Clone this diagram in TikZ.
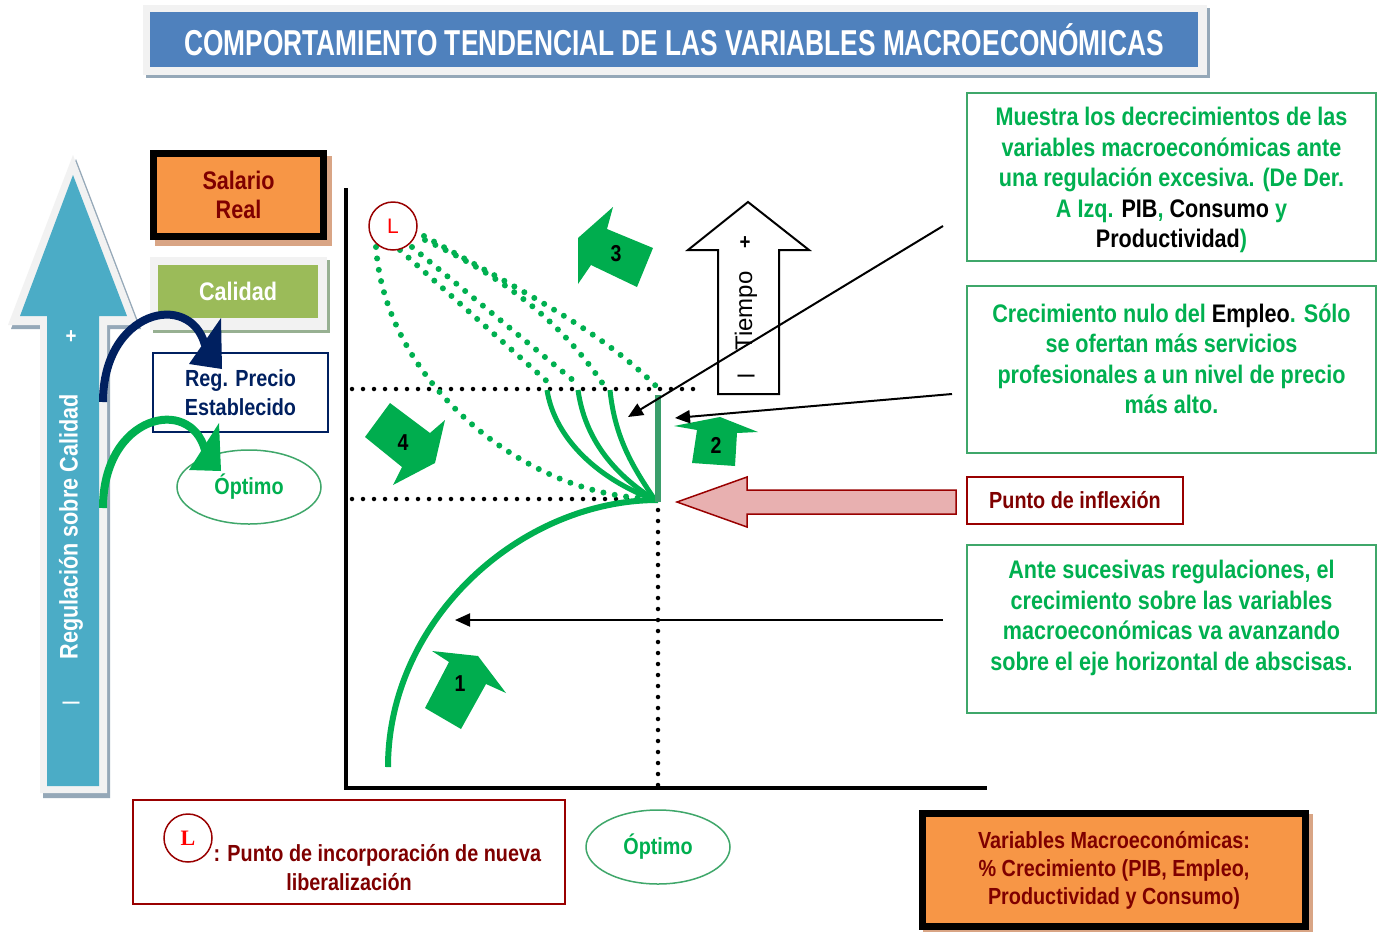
\documentclass[tikz,border=0pt]{standalone}
\usepackage{fontspec}
\usepackage{graphicx}
\setmainfont{Liberation Sans}[FakeStretch=0.85]
\newfontfamily\widesans{Liberation Sans}
\newfontfamily\serifL{Liberation Serif}
\usetikzlibrary{arrows.meta,shapes.geometric}
\definecolor{titleblue}{HTML}{4F81BD}
\definecolor{skyblue}{HTML}{4BACC6}
\definecolor{paleg}{HTML}{F2F2F2}
\definecolor{shadowb}{HTML}{95A8B8}
\definecolor{orng}{HTML}{F79646}
\definecolor{dred}{HTML}{7F0000}
\definecolor{bred}{HTML}{990000}
\definecolor{tgreen}{HTML}{00B050}
\definecolor{bgreen}{HTML}{3FA76A}
\definecolor{lgreen}{HTML}{9BBB59}
\definecolor{navyc}{HTML}{002060}
\definecolor{agreen}{HTML}{00AD4E}
\definecolor{bargreen}{HTML}{3A9E6B}
\definecolor{pinkc}{HTML}{E8B0B0}
\definecolor{tanc}{HTML}{D9A585}
\definecolor{lredc}{HTML}{FF0000}
\tikzset{
  fA/.style={font=\bfseries\fontsize{25.4}{30.5}\selectfont},
  fB/.style={font=\bfseries\fontsize{23.3}{28}\selectfont},
  gbox/.style={draw=bgreen, line width=1.5pt, minimum width=409pt, minimum height=168pt, inner sep=0pt},
  blockarrow/.style={fill=agreen},
  thinarrow/.style={line width=2pt, -{Triangle[length=15pt,width=13pt]}},
  gdots/.style={draw=tgreen, line width=6pt, line cap=round, dash pattern=on 0pt off 11.5pt},
  kdots/.style={draw=black, line width=4.5pt, line cap=round, dash pattern=on 0pt off 11pt},
  numlbl/.style={font=\bfseries\fontsize{23}{23}\selectfont, text=black},
  optimo/.style={ellipse, draw=bgreen, line width=1.5pt, minimum width=144pt, minimum height=74pt, inner sep=0pt, text=tgreen, fB},
  every node/.style={align=center}
}
\begin{document}
\begin{tikzpicture}[x=1pt,y=-1pt]
\useasboundingbox[fill=white] (0,0) rectangle (1383,932);

% ---------- title ----------
\fill[shadowb] (146,8) rectangle (1210,78);
\fill[paleg] (143,5) rectangle (1207,75);
\fill[titleblue] (150,12) rectangle (1198,67);
\node[font=\bfseries\fontsize{36}{36}\selectfont, text=white] (title) at (674,40)
  {\scalebox{0.86}[1]{COMPORTAMIENTO TENDENCIAL DE LAS VARIABLES MACROECONÓMICAS}};

% ---------- left big arrow ----------
\fill[shadowb] (76,159) -- (141,329) -- (110,329) -- (110,798) -- (43,798) -- (43,329) -- (11,329) -- cycle;
\fill[paleg] (73,155) -- (138,325) -- (107,325) -- (107,793) -- (40,793) -- (40,325) -- (8,325) -- cycle;
\fill[skyblue] (73,175) -- (127,316) -- (99,316) -- (99,786) -- (47,786) -- (47,316) -- (20,316) -- cycle;
\node[rotate=90, text=white, fA] (reglab) at (71,527) {Regulación sobre Calidad};
\node[text=white, font=\bfseries\fontsize{22}{22}\selectfont] (regplus) at (71,337) {+};
\node[text=white, font=\bfseries\fontsize{20}{20}\selectfont] (regminus) at (71,705) {—};

% ---------- Salario Real ----------
\fill[tanc] (155,156) rectangle (332,246);
\node[draw=black, line width=7pt, fill=orng, minimum width=170pt, minimum height=83pt, inner sep=0pt,
      text=dred, font=\bfseries\fontsize{25.4}{29}\selectfont] (salario) at (238.5,195) {Salario\\Real};

% ---------- Calidad ----------
\fill[shadowb!60!lgreen] (153,260) rectangle (330,333);
\fill[paleg] (150,257) rectangle (327,330);
\node[fill=lgreen, minimum width=160pt, minimum height=53pt, inner sep=0pt, text=white,
      font=\bfseries\fontsize{25.4}{25}\selectfont] (calidad) at (238,291.5) {Calidad};

% ---------- Reg. Precio ----------
\node[draw=navyc, line width=2pt, minimum width=175pt, minimum height=79pt, inner sep=0pt,
      text=navyc, font=\bfseries\fontsize{23.3}{29}\selectfont] (regprecio) at (240.5,392.5) {Reg. Precio\\Establecido};

% ---------- Optimo (left) ----------
\node[optimo] (opt1) at (249,487) {Óptimo};

% ---------- curved arrows ----------
\coordinate (navyS) at (103,402);
\coordinate (navyE) at (205,345);
\draw[navyc, line width=8pt] (navyS) .. controls (103,310) and (190,290) .. (navyE);
\fill[navyc] (189,364) -- (221,318) -- (222,369) -- cycle;
\coordinate (grnS) at (103,508);
\coordinate (grnE) at (205,450);
\draw[tgreen, line width=8pt] (grnS) .. controls (103,415) and (190,395) .. (grnE);
\fill[tgreen] (189,470) -- (219,423) -- (221,471) -- cycle;

% ---------- axes ----------
\coordinate (ytop) at (346,188);
\coordinate (origin) at (346,788);
\coordinate (xend) at (987,788);
\draw[line width=4pt] (ytop) -- (origin) -- (xend);

% dotted guides
\coordinate (d1a) at (352,389); \coordinate (d1b) at (700,389);
\coordinate (d2a) at (352,499); \coordinate (d2b) at (652,499);
\coordinate (d3a) at (658,510); \coordinate (d3b) at (658,786);
\draw[kdots] (d1a) -- (d1b);
\draw[kdots] (d2a) -- (d2b);
\draw[kdots] (d3a) -- (d3b);

% ---------- green dotted curves from L ----------
\coordinate (pinf) at (655,500);
\draw[gdots] (376,247) .. controls (385,380) and (520,490) .. (640,498);
\draw[gdots] (400,250) -- (550,384);
\draw[gdots] (412,247) -- (580,386);
\draw[gdots] (425,240) .. controls (500,275) and (560,320) .. (603,384);
\draw[gdots] (424,236) .. controls (520,290) and (600,330) .. (657,387);

% L circle
\node[circle, draw=bred, line width=1.5pt, fill=white, minimum size=48pt, inner sep=0pt,
      text=lredc, font=\widesans\fontsize{21}{21}\selectfont] (Lc) at (393,226) {L};

% ---------- solid green curves ----------
\draw[tgreen, line width=5pt] (547,390) .. controls (555,440) and (600,480) .. (pinf);
\draw[tgreen, line width=5pt] (578,390) .. controls (585,440) and (615,475) .. (pinf);
\draw[tgreen, line width=5pt] (610,390) .. controls (615,440) and (635,470) .. (pinf);
\coordinate (curveS) at (388,767);
\draw[tgreen, line width=6pt] (curveS) .. controls (388,620) and (520,500) .. (658,500);
\coordinate (barT) at (658,395);
\coordinate (barB) at (658,502);
\draw[bargreen, line width=6pt] (barT) -- (barB);

% ---------- block arrows ----------
\fill[blockarrow] (425,708) -- (449,662) -- (432,651) -- (478,656) -- (506,693) -- (486,684) -- (461,729) -- cycle;
\node[numlbl] (n1) at (460,684) {1};
\fill[blockarrow] (674,426) -- (720,417) -- (758,432) -- (737,433) -- (735,466) -- (692,463) -- (697,430) -- cycle;
\node[numlbl] (n2) at (716,445) {2};
\fill[blockarrow] (613,207) -- (578,238) -- (578,284) -- (591,265) -- (637,287) -- (653,248) -- (607,229) -- cycle;
\node[numlbl] (n3) at (616,254) {3};
\fill[blockarrow] (390,403) -- (365,437) -- (402,467) -- (393,485) -- (435,463) -- (445,420) -- (430,433) -- cycle;
\node[numlbl] (n4) at (403,443) {4};

% ---------- Tiempo arrow ----------
\draw[line width=2pt, fill=white] (748,202) -- (809,250) -- (779,250) -- (779,394) -- (718,394) -- (718,250) -- (688,250) -- cycle;
\node[rotate=90, font=\widesans\fontsize{24}{24}\selectfont] (tiempo) at (746,311) {Tiempo};
\node[font=\bfseries\fontsize{22}{22}\selectfont] (tplus) at (745,243) {+};
\node[font=\bfseries\fontsize{20}{20}\selectfont] (tminus) at (746,378) {—};

% ---------- pink arrow ----------
\draw[bred, line width=1.5pt, fill=pinkc] (956,490) -- (747,490) -- (747,477) -- (677,502) -- (747,527) -- (747,514) -- (956,514) -- cycle;

% ---------- right boxes ----------
\node[gbox] (box1) at (1171.5,177) {};
\node[text=tgreen, fA] (t1) at (1171.5,180) {Muestra los decrecimientos de las\\variables macroeconómicas ante\\una regulación excesiva. (De Der.\\A Izq. \textcolor{black}{PIB}, \textcolor{black}{Consumo} y\\\textcolor{black}{Productividad})};

\node[gbox, minimum height=167pt] (box2) at (1171.5,369.5) {};
\node[text=tgreen, fA] (t2) at (1171.5,359) {Crecimiento nulo del \textcolor{black}{Empleo}. Sólo\\se ofertan más servicios\\profesionales a un nivel de precio\\más alto.};

\node[draw=bred, line width=2pt, minimum width=216pt, minimum height=47pt, inner sep=0pt,
      text=dred, fB] (box3) at (1075,500) {Punto de inflexión};

\node[gbox] (box4) at (1171.5,629) {};
\node[text=tgreen, fA] (t4) at (1171.5,618) {Ante sucesivas regulaciones, el\\crecimiento sobre las variables\\macroeconómicas va avanzando\\sobre el eje horizontal de abscisas.};

% ---------- thin arrows ----------
\coordinate (a1s) at (943,226); \coordinate (a1e) at (628,417);
\coordinate (a2s) at (952,394); \coordinate (a2e) at (675,418);
\coordinate (a3s) at (943,620); \coordinate (a3e) at (455,620);
\draw[thinarrow] (a1s) -- (a1e);
\draw[thinarrow] (a2s) -- (a2e);
\draw[thinarrow] (a3s) -- (a3e);

% ---------- bottom left legend ----------
\node[draw=bred, line width=2pt, minimum width=432pt, minimum height=104pt, inner sep=0pt] (legend) at (349,852) {};
\node[circle, draw=bred, line width=1.5pt, minimum size=48pt, inner sep=0pt,
      text=lredc, font=\serifL\bfseries\fontsize{22}{22}\selectfont] (Lleg) at (188,838) {L};
\node[anchor=west, text=dred, fB] (leg1) at (210,855) {: Punto de incorporación de nueva};
\node[text=dred, fB] (leg2) at (349,882) {liberalización};

% ---------- bottom Optimo ----------
\node[optimo] (opt2) at (658,847) {Óptimo};

% ---------- bottom right box ----------
\fill[tanc] (923,814) rectangle (1313,932);
\node[draw=black, line width=7pt, fill=orng, minimum width=383pt, minimum height=113pt, inner sep=0pt,
      text=dred, font=\bfseries\fontsize{23.3}{28}\selectfont] (vars) at (1114,870)
  {Variables Macroeconómicas:\\\% Crecimiento (PIB, Empleo,\\Productividad y Consumo)};
\end{tikzpicture}
\end{document}
